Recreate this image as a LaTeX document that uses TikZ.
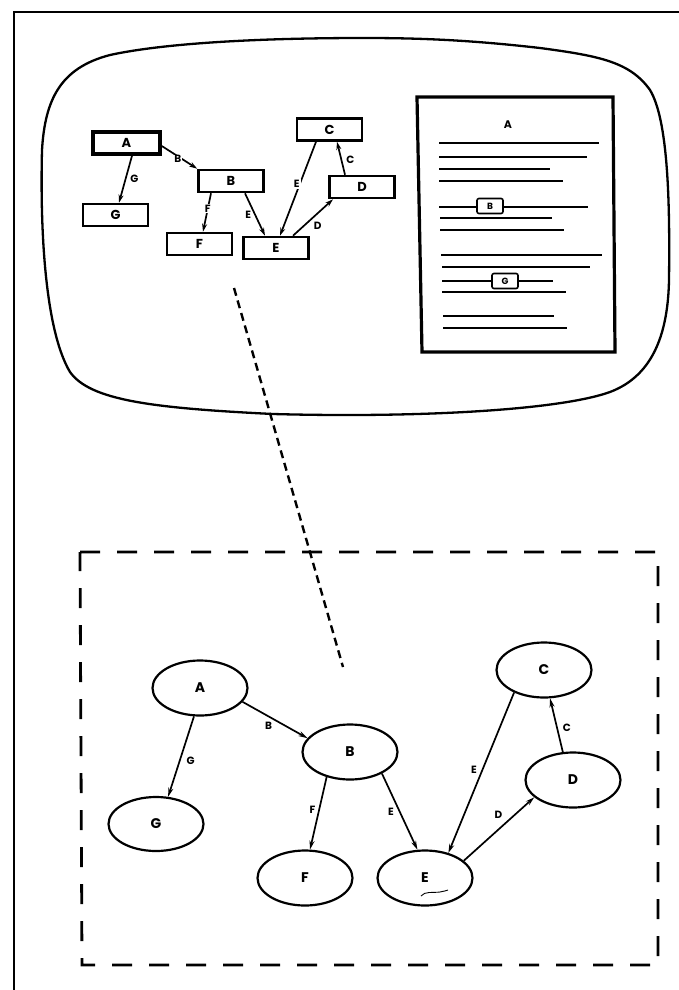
\documentclass[tikz,border=0pt]{standalone}
\usepackage{fontspec}
\setmainfont{Poppins}
\usetikzlibrary{arrows.meta,shapes.geometric}
\begin{document}
\begin{tikzpicture}[x=1pt,y=-1pt,
  sbox/.style={draw,line width=2.6pt,rectangle,minimum width=65pt,minimum height=22pt,inner sep=0pt,font=\fontsize{13}{13}\selectfont\bfseries},
  bignode/.style={draw,line width=2.2pt,ellipse,minimum width=95pt,minimum height=55pt,inner sep=0pt,font=\fontsize{14}{14}\selectfont\bfseries},
  sedge/.style={line width=1.7pt,-{Stealth[length=8pt,width=5pt]}},
  bedge/.style={line width=1.7pt,-{Stealth[length=9pt,width=5pt]}},
  elab/.style={font=\fontsize{10.5}{10.5}\selectfont\bfseries,inner sep=1pt},
  txline/.style={line width=2pt},
  tag/.style={draw,line width=1.6pt,rounded corners=2pt,minimum width=26pt,minimum height=15pt,inner sep=0pt,fill=white,font=\fontsize{9}{9}\selectfont\bfseries}]
\useasboundingbox (0,0) rectangle (679,990);

% sheet border
\draw[line width=2pt] (14,990) -- (14,12) -- (679,12);

% screen outline
\draw[line width=2.3pt] (364,38) .. controls (250,38) and (160,44) .. (110,55)
  .. controls (60,68) and (45,100) .. (42,150)
  .. controls (40,230) and (45,330) .. (70,372)
  .. controls (90,400) and (150,408) .. (273,414)
  .. controls (420,418) and (560,410) .. (610,392)
  .. controls (655,375) and (668,330) .. (669,280)
  .. controls (670,200) and (668,120) .. (650,90)
  .. controls (630,62) and (600,56) .. (540,48)
  .. controls (470,40) and (420,38) .. (364,38) -- cycle;

% document page shown on the screen
\draw[line width=3.2pt] (417,97) -- (613,97) -- (615,352) -- (422,352) -- cycle;
\node[font=\fontsize{11}{11}\selectfont\bfseries] (docA) at (508,125) {A};
\draw[txline] (439,143) -- (599,143);
\draw[txline] (439,157) -- (587,157);
\draw[txline] (439,169) -- (550,169);
\draw[txline] (439,181) -- (563,181);
\draw[txline] (439,207) -- (588,207);
\node[tag] (docB) at (490,206) {B};
\draw[txline] (440,218) -- (552,218);
\draw[txline] (440,230) -- (564,230);
\draw[txline] (441,255) -- (602,255);
\draw[txline] (442,267) -- (590,267);
\draw[txline] (442,281) -- (553,281);
\node[tag] (docG) at (505,281) {G};
\draw[txline] (442,292) -- (566,292);
\draw[txline] (443,316) -- (554,316);
\draw[txline] (443,328) -- (567,328);

% small graph on the screen
\node[sbox,line width=3.6pt,minimum width=67pt] (sA) at (126.5,143) {A};
\node[sbox] (sC) at (329.5,129.5) {C};
\node[sbox] (sB) at (231,181) {B};
\node[sbox] (sD) at (362,187) {D};
\node[sbox] (sG) at (115.5,215) {G};
\node[sbox] (sF) at (199.5,244) {F};
\node[sbox] (sE) at (276,248) {E};

\draw[sedge] ([yshift=-3pt]sA.east) -- node[elab,fill=white,pos=.45,yshift=-3pt] {B} (sB.north west);
\draw[sedge] ([xshift=5.5pt]sA.south) -- node[elab,right=3pt,pos=.5] {G} ([xshift=3.5pt]sG.north);
\draw[sedge] ([xshift=-20pt]sB.south) -- node[elab,fill=white,pos=.4] {F} ([xshift=3.5pt]sF.north);
\draw[sedge] ([xshift=14pt]sB.south) -- node[elab,left=2pt,pos=.5] {E} ([xshift=-11pt]sE.north);
\draw[sedge] ([xshift=-13.5pt]sC.south) -- node[elab,fill=white,pos=.45,xshift=-3pt] {E} ([xshift=4pt]sE.north);
\draw[sedge] ([xshift=-17pt]sD.north) -- node[elab,right=3pt,pos=.45] {C} ([xshift=7.5pt]sC.south);
\draw[sedge] ([xshift=17pt]sE.north) -- node[elab,below right=1pt,pos=.45] {D} ([xshift=-29pt]sD.south);

% leader from the screen to the enlarged view
\coordinate (lead1) at (234,288);
\coordinate (lead2) at (343,667);
\draw[line width=2.4pt,dash pattern=on 8pt off 5pt] (lead1) -- (lead2);

% enlarged view
\draw[line width=2.8pt,dash pattern=on 20pt off 17pt] (80,552) -- (658,552) -- (658,965) -- (82,965) -- cycle;

\node[bignode] (eA) at (200,688) {A};
\node[bignode] (eB) at (350,752) {B};
\node[bignode] (eC) at (544,670) {C};
\node[bignode] (eD) at (573,780) {D};
\node[bignode,minimum height=54pt] (eG) at (156,824) {G};
\node[bignode] (eF) at (305,878) {F};
\node[bignode] (eE) at (425,878) {E};
\draw[line width=0.9pt] (421,896) .. controls (425,891) and (432,893) .. (440,892) .. controls (444,891) and (446,891) .. (448,890);

\draw[bedge] (eA.-18) -- node[elab,pos=.4,below=4pt] {B} (eB.162);
\draw[bedge] (eA.-102) -- node[elab,pos=.55,right=5pt] {G} (eG.66);
\draw[bedge] (eB.-133) -- node[elab,pos=.45,left=2pt] {F} (eF.80);
\draw[bedge] (eB.-34) -- node[elab,pos=.5,left=4pt] {E} (eE.105);
\draw[bedge] (eC.-143) -- node[elab,pos=.48,left=4pt] {E} (eE.47);
\draw[bedge] (eD.110) -- node[elab,pos=.45,right=4pt] {C} (eC.-78);
\draw[bedge] (eE.24) -- node[elab,pos=.6,above left=2pt] {D} (eD.-156);
\end{tikzpicture}
\end{document}
